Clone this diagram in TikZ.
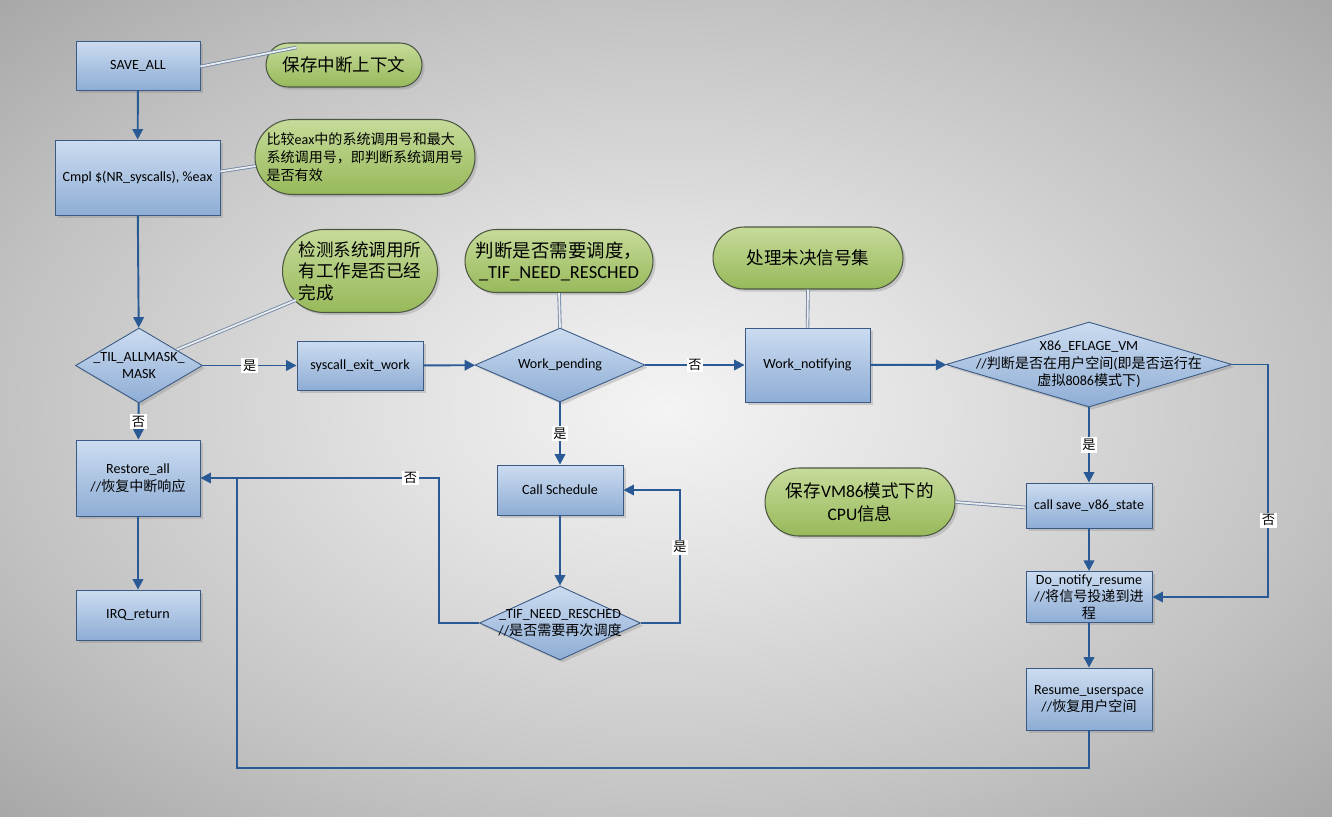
\documentclass[tikz,border=0pt]{standalone}
\usepackage{fontspec}
\setmainfont{Carlito}
\newfontfamily\cjk{Noto Sans CJK SC}
\newcommand{\zh}[1]{{\cjk #1}}
\usepackage{xcolor}
\usepackage{tikz}
\usetikzlibrary{arrows.meta, positioning, calc, shapes.geometric, shadows}

\definecolor{boxtop}{HTML}{CCDCF0}
\definecolor{boxbot}{HTML}{8EADD5}
\definecolor{boxline}{HTML}{3A5A85}
\definecolor{pilltop}{HTML}{C6DB9A}
\definecolor{pillbot}{HTML}{97B95A}
\definecolor{pillline}{HTML}{4B5742}
\definecolor{flowblue}{HTML}{2A5A95}
\definecolor{linkgray}{HTML}{6F88A8}
\definecolor{bgcenter}{HTML}{F4F4F4}
\definecolor{bgmid}{HTML}{E2E2E2}
\definecolor{bgedge}{HTML}{C2C2C2}
\definecolor{bgcorner}{HTML}{A6A6A6}
\pgfdeclareradialshading{bgshade}{\pgfpoint{0bp}{0bp}}{color(0bp)=(bgcenter); color(10bp)=(bgmid); color(25bp)=(bgedge); color(36bp)=(bgcorner); color(50bp)=(bgcorner)}

\begin{document}
\begin{tikzpicture}[x=0.02cm, y=-0.02cm,
    stepbox/.style={draw=boxline, line width=0.5pt, top color=boxtop, bottom color=boxbot,
        drop shadow={shadow xshift=1.5pt, shadow yshift=-1.5pt, opacity=0.3},
        align=center, inner sep=2pt, font=\fontsize{8}{10}\selectfont},
    decision/.style={diamond, draw=boxline, line width=0.5pt, top color=boxtop, bottom color=boxbot,
        drop shadow={shadow xshift=1.5pt, shadow yshift=-1.5pt, opacity=0.3}, inner sep=0pt},
    remark/.style={draw=pillline, line width=0.6pt, top color=pilltop, bottom color=pillbot,
        drop shadow={shadow xshift=1.5pt, shadow yshift=-1.5pt, opacity=0.3},
        rounded corners=#1, inner sep=2pt},
    tether/.style={draw=linkgray, line width=0.5pt, double=white!85!gray, double distance=1pt},
    flow/.style={draw=flowblue, line width=1.1pt, -{Triangle[length=6pt,width=6pt]}},
    flowline/.style={draw=flowblue, line width=1.1pt},
    yesno/.style={fill=white, inner sep=1pt, font=\cjk\fontsize{7.5}{9}\selectfont},
    cond/.style={font=\fontsize{8}{10}\selectfont, align=center}
]
    \useasboundingbox (0,0) rectangle (1332,816);
    \shade[shading=bgshade] (0,0) rectangle (1332,816);

    % left column
    \node[stepbox, minimum width=2.48cm, minimum height=0.98cm] (saveall) at (138,65.5) {SAVE\_ALL};
    \node[stepbox, minimum width=3.3cm, minimum height=1.5cm] (cmpl) at (137.5,177.5) {Cmpl \$(NR\_syscalls), \%eax};
    \node[decision, minimum width=2.54cm, minimum height=1.5cm,
        label={[cond]center:{\_TIL\_ALLMASK\_\\MASK}}] (allmask) at (139,365.5) {};
    \node[stepbox, minimum width=2.48cm, minimum height=1.52cm] (restore) at (138,478) {Restore\_all\\//\zh{恢复中断响应}};
    \node[stepbox, minimum width=2.48cm, minimum height=1.0cm] (irq) at (138,615) {IRQ\_return};

    % middle
    \node[stepbox, minimum width=2.52cm, minimum height=0.98cm] (exitwork) at (360,365.5) {syscall\_exit\_work};
    \node[decision, minimum width=3.4cm, minimum height=1.48cm,
        label={[cond]center:{Work\_pending}}] (pending) at (560,365) {};
    \node[stepbox, minimum width=2.52cm, minimum height=1.0cm] (sched) at (560,490) {Call Schedule};
    \node[decision, minimum width=3.22cm, minimum height=1.48cm,
        label={[cond]center:{\_TIF\_NEED\_RESCHED\\//\zh{是否需要再次调度}}}] (resched) at (560,623) {};
    \node[stepbox, minimum width=2.5cm, minimum height=1.48cm] (notify) at (807.5,365) {Work\_notifying};

    % right column
    \node[decision, minimum width=5.72cm, minimum height=1.7cm,
        label={[cond]center:{X86\_EFLAGE\_VM\\//\zh{判断是否在用户空间}(\zh{即是否运行在}\\\zh{虚拟}8086\zh{模式下})}}] (vmcheck) at (1089,364.5) {};
    \node[stepbox, minimum width=2.52cm, minimum height=0.9cm] (savev86) at (1089,505.5) {call save\_v86\_state};
    \node[stepbox, minimum width=2.52cm, minimum height=1.0cm, font=\fontsize{8}{9.5}\selectfont] (donotify) at (1089,597)
        {Do\_notify\_resume\\//\zh{将信号投递到进}\\\zh{程}};
    \node[stepbox, minimum width=2.52cm, minimum height=1.24cm] (resume) at (1089,699) {Resume\_userspace\\//\zh{恢复用户空间}};

    % callouts
    \node[remark=0.44cm, minimum width=3.12cm, minimum height=0.88cm, font=\cjk\fontsize{10}{12}\selectfont]
        (savenote) at (344,65) {保存中断上下文};
    \node[remark=0.75cm, minimum width=4.4cm, minimum height=1.5cm, align=left, font=\fontsize{8}{10.4}\selectfont]
        (cmplnote) at (365,157) {\zh{比较}eax\zh{中的系统调用号和最大}\\\zh{系统调用号，即判断系统调用号}\\\zh{是否有效}};
    \node[remark=0.83cm, minimum width=3.1cm, minimum height=1.66cm, align=left, font=\cjk\fontsize{10}{12.3}\selectfont]
        (masknote) at (360,271) {检测系统调用所\\有工作是否已经\\完成};
    \node[remark=0.63cm, minimum width=3.76cm, minimum height=1.26cm, align=center, font=\fontsize{10.5}{12}\selectfont]
        (pendnote) at (559,261) {\zh{判断是否需要调度，}\\\_TIF\_NEED\_RESCHED};
    \node[remark=0.62cm, minimum width=3.8cm, minimum height=1.24cm, font=\cjk\fontsize{10}{12}\selectfont]
        (notifynote) at (808,258) {处理未决信号集};
    \node[remark=0.68cm, minimum width=3.8cm, minimum height=1.36cm, align=center, font=\fontsize{10}{13}\selectfont]
        (v86note) at (860,502) {\zh{保存}VM86\zh{模式下的}\\CPU\zh{信息}};

    \coordinate (loopcorner) at (237,768);
    \coordinate (loopjoin) at (237,478);

    % callout tethers
    \draw[tether] ($(saveall.east)+(0,1)$) -- ($(savenote.north west)+(31,5)$);
    \draw[tether] ($(cmpl.east)+(0,-6)$) -- ($(cmplnote.west)+(1,9)$);
    \draw[tether] ($(allmask.north)+(38,22)$) -- ($(masknote.south west)+(14,-13)$);
    \draw[tether] (pendnote.south) -- (pending.north);
    \draw[tether] (notifynote.south) -- (notify.north);
    \draw[tether] (v86note.east) -- ($(savev86.west)+(0,2)$);

    % flow
    \draw[flow] (saveall) -- (cmpl);
    \draw[flow] (cmpl) -- (allmask);
    \draw[flow] (allmask) -- node[yesno] {是} (exitwork);
    \draw[flow] (allmask) -- node[yesno] {否} (restore);
    \draw[flow] (restore) -- (irq);
    \draw[flow] (exitwork) -- (pending);
    \draw[flow] (pending) -- node[yesno] {否} (notify);
    \draw[flow] (pending) -- node[yesno] {是} (sched);
    \draw[flow] (sched) -- (resched);
    \draw[flow] (resched.east) -- ++(39,0) |- node[yesno, pos=0.285] {是} (sched.east);
    \draw[flow] (resched.west) -- ++(-40,0) |- node[yesno, pos=0.56] {否} (restore.east);
    \draw[flow] (notify) -- (vmcheck);
    \draw[flow] (vmcheck) -- node[yesno] {是} (savev86);
    \draw[flow] (vmcheck.east) -- ++(36,0) |- node[yesno, pos=0.335] {否} (donotify.east);
    \draw[flow] (savev86) -- (donotify);
    \draw[flow] (donotify) -- (resume);
    \draw[flowline] (resume.south) |- (loopcorner) -- (loopjoin);
\end{tikzpicture}
\end{document}
